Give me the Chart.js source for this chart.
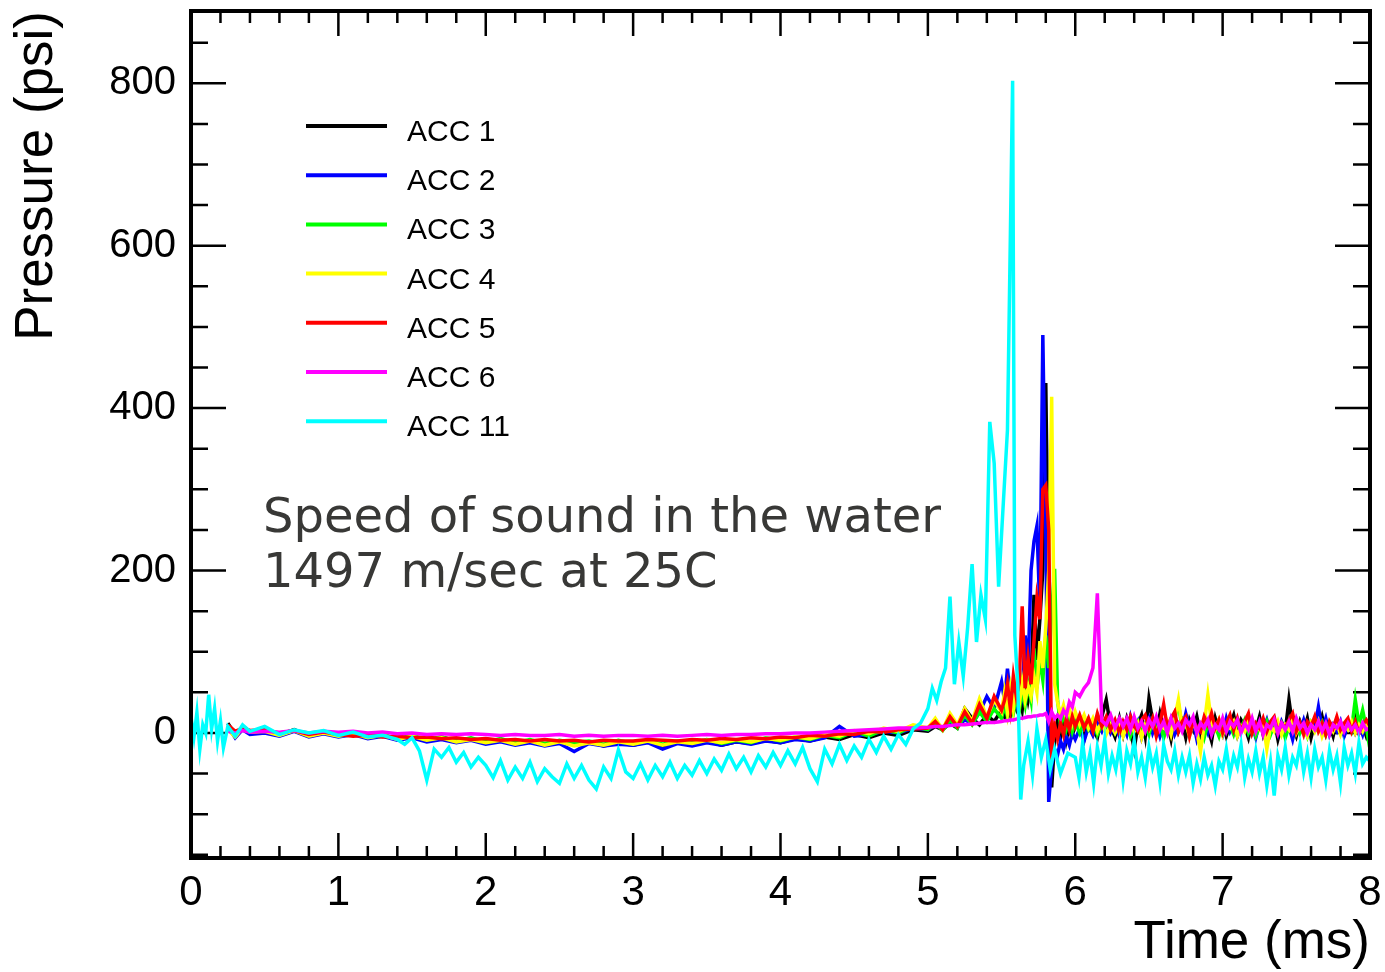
<!DOCTYPE html>
<html>
<head>
<meta charset="utf-8">
<script src="https://cdn.jsdelivr.net/npm/chart.js@4.4.0/dist/chart.umd.min.js"></script>
<style>
  html, body { margin: 0; padding: 0; background: #fff; }
  #wrap { width: 1385px; height: 972px; position: relative; }
</style>
</head>
<body>
<div id="wrap"><canvas id="chart"></canvas></div>
<script>
// time samples (ms) shared by ACC 1..6
const TIME_A = [
  0.25, 0.3, 0.35, 0.4,
  0.5, 0.6, 0.7, 0.8, 0.9,
  1.0, 1.1, 1.2, 1.3, 1.4, 1.5, 1.6, 1.7, 1.8, 1.9,
  2.0, 2.1, 2.2, 2.3, 2.4, 2.5, 2.6, 2.7, 2.8, 2.9,
  3.0, 3.1, 3.2, 3.3, 3.4, 3.5, 3.6, 3.7, 3.8, 3.9,
  4.0, 4.1, 4.2, 4.3, 4.4, 4.5, 4.6, 4.7, 4.8, 4.9,
  5.0, 5.05, 5.1, 5.15, 5.2, 5.25, 5.3, 5.35, 5.4, 5.45, 5.5,
  5.52, 5.54, 5.56, 5.58, 5.6, 5.62, 5.64, 5.66, 5.68, 5.7, 5.72, 5.74, 5.76, 5.78, 5.8, 5.82, 5.84, 5.86, 5.88, 5.9, 5.92, 5.94, 5.96, 5.98, 6.0,
  6.03, 6.06, 6.09, 6.12, 6.15, 6.18, 6.21, 6.24, 6.27, 6.3,
  6.325, 6.35, 6.375, 6.4, 6.425, 6.45, 6.475, 6.5, 6.525, 6.55,
  6.575, 6.6, 6.625, 6.65, 6.675, 6.7, 6.725, 6.75, 6.775, 6.8,
  6.825, 6.85, 6.875, 6.9, 6.925, 6.95, 6.975, 7.0, 7.025, 7.05,
  7.075, 7.1, 7.125, 7.15, 7.175, 7.2, 7.225, 7.25, 7.275, 7.3,
  7.325, 7.35, 7.375, 7.4, 7.425, 7.45, 7.475, 7.5, 7.525, 7.55,
  7.575, 7.6, 7.625, 7.65, 7.675, 7.7, 7.725, 7.75, 7.775, 7.8,
  7.825, 7.85, 7.875, 7.9, 7.925, 7.95, 7.975, 8.0
]

const ACC1 = [
  12, -2, 6, 0,
  3, -2, 4, -3, 1,
  -4, 0, -6, -2, -8, -4, -9, -5, -10, -7,
  -12, -8, -13, -9, -14, -10, -15, -11, -16, -12,
  -15, -11, -16, -12, -14, -10, -15, -11, -13, -9,
  -12, -7, -10, -5, -8, -2, -6, 0, -3, 4,
  2, 8, 4, 12, 6, 30, 18, 10, 22, 14, 28,
  20, 34, 22, 40, 30, 45, 28, 60, 40, 60, 170, 90, 140, 200, 431, 150, -67, -10, 15, -5, 20, -8, 10, -2, 8,
  12, -8, 15, 5, -6, 20, 41, 8, -5, 18,
  -2, 18, 4, -20, 10, 22, -4, 42, 15, 0,
  24, 6, 12, -8, 20, 2, 14, -6, 16, 4,
  20, -2, 12, 6, -10, 18, 2, 14, -4, 10,
  22, 0, 16, 8, -6, 14, 4, 20, -2, 12,
  6, 16, -8, 10, 2, 41, 8, -4, 14, 2,
  18, -6, 12, 4, 20, 0, 10, -4, 16, 6,
  -2, 14, 4, 20, 0, 10, -4, 8
]

const ACC2 = [
  8, -6, 4, -2,
  0, -4, 2, -5, -1,
  -5, -2, -7, -4, -9, -6, -11, -8, -12, -9,
  -14, -11, -15, -12, -16, -13, -23, -13, -16, -14,
  -15, -12, -20, -13, -16, -12, -15, -11, -14, -10,
  -12, -8, -10, -6, 8, -4, -2, 2, 0, 6,
  4, 10, 6, 14, 8, 16, 12, 25, 45, 30, 63,
  40, 79, 45, 60, 40, 70, 50, 120, 80, 200, 236, 255, 150, 490, 250, -85, -40, -20, -27, -10, -20, -5, -15, 0, -8,
  5, -10, 8, -3, 12, 2, 16, 0, 10, -4,
  10, -2, 20, 4, 14, -6, 8, 18, 0, 12,
  -4, 10, 2, 16, -2, 8, 4, 24, 6, 14,
  -8, 6, 12, 0, 16, 4, 10, -2, 18, 2,
  12, -4, 8, 14, 0, 10, -6, 12, 4, 16,
  0, 10, -2, 14, 4, 8, -8, 12, 2, 16,
  0, 10, 6, 32, 4, 18, -2, 10, 2, 14,
  -4, 8, 12, 0, 10, -2, 14, 4
]

const ACC3 = [
  6, -4, 8, 2,
  4, -1, 3, -3, 2,
  -3, 0, -5, -2, -7, -3, -8, -5, -10, -6,
  -11, -7, -12, -8, -13, -9, -12, -10, -14, -9,
  -13, -9, -14, -10, -12, -8, -13, -9, -12, -6,
  -10, -5, -8, -3, -6, 2, -4, 4, 0, 8,
  4, 12, 3, 16, 6, 22, 10, 26, 14, 30, 18,
  34, 20, 38, 24, 44, 28, 52, 34, 60, 40, 104, 55, 90, 65, 120, 80, 150, 202, 40, 10, 25, 5, 18, 2, 14,
  0, 16, 4, 12, -2, 10, 2, 14, 0, 10,
  2, 12, -4, 8, 14, 0, 10, -2, 16, 4,
  12, -6, 8, 2, 18, 36, 6, 12, -2, 14,
  4, 10, -6, 12, 0, 8, -4, 14, 2, 10,
  -2, 12, 6, 16, 0, 10, -4, 8, 2, 14,
  -2, 10, 4, 12, -6, 8, 2, 16, 0, 10,
  -4, 12, 2, 8, 14, -2, 10, 4, 12, 0,
  8, 14, 4, 41, 10, 28, 6, -20
]

const ACC4 = [
  4, -5, 6, 1,
  2, -3, 3, -4, 0,
  -4, -1, -6, -3, -8, -4, -9, -6, -11, -8,
  -12, -9, -14, -10, -15, -11, -16, -12, -15, -11,
  -14, -10, -15, -11, -13, -9, -12, -8, -11, -7,
  -9, -5, -7, -2, -4, 3, -1, 6, 2, 10,
  6, 18, 4, 24, 10, 30, 14, 42, 20, 40, 26,
  50, 25, 55, 30, 60, 35, 63, 40, 58, 45, 70, 50, 113, 80, 130, 200, 414, 60, 38, 22, 34, 18, 30, 12, 26,
  10, 22, 6, 18, 2, 14, -2, 10, 0, 12,
  -4, 8, 14, 2, 12, -6, 10, 4, 16, 0,
  10, 6, 14, -2, 18, 41, 8, 12, -4, 14,
  2, -23, 10, 47, 12, 4, 16, -2, 10, 6,
  14, -4, 8, 2, 16, 0, 10, 4, 12, -20,
  8, 2, 14, -2, 10, 4, 18, 0, 10, 6,
  -4, 12, 2, 14, -4, 8, 10, 2, 12, -2,
  10, 4, 14, 0, 10, 2, 12, 4
]

const ACC5 = [
  10, 2, 6, 3,
  4, 0, 3, -2, 1,
  -2, -4, -3, -5, -4, -6, -5, -7, -6, -8,
  -7, -9, -8, -10, -8, -10, -9, -11, -9, -10,
  -10, -8, -9, -10, -8, -9, -7, -8, -6, -7,
  -5, -6, -3, -4, -1, -2, 2, 1, 4, 5,
  6, 14, 4, 20, 8, 26, 12, 35, 18, 45, 28,
  40, 60, 30, 70, 45, 62, 156, 55, 92, 60, 113, 166, 140, 300, 305, 250, -32, 10, -7, 12, -2, 18, 4, 20, 8,
  22, 6, 18, 2, 24, 8, 20, 4, 16, 0,
  14, 4, 20, 8, 2, 16, 22, 6, 18, -4,
  12, 35, 6, 18, 26, 2, 14, 20, -4, 14,
  8, 2, 20, 10, 24, 6, 16, 0, 12, 22,
  4, 18, 2, 14, 24, 0, 12, 6, 18, 2,
  14, 20, 0, 12, 6, 16, 24, 2, 12, -2,
  14, 8, 20, 2, 12, -2, 14, 6, 20, 4,
  12, 18, 2, 14, 0, 10, 16, 8
]

const ACC6 = [
  2, 0, 3, 1,
  2, 1, 3, 0, 2,
  1, 2, 0, 1, -1, 0, -2, -1, -2, -1,
  -2, -3, -2, -3, -3, -2, -4, -3, -4, -3,
  -3, -4, -3, -4, -3, -2, -3, -2, -2, -1,
  -1, 0, 0, 1, 2, 3, 4, 5, 6, 6,
  7, 8, 8, 9, 10, 10, 11, 12, 13, 13, 14,
  15, 15, 16, 16, 17, 18, 18, 19, 20, 20, 21, 21, 22, 22, 24, 14, 26, 18, 22, 18, 28, 22, 38, 32, 50,
  45, 55, 62, 80, 172, 15, 10, 22, 6, 18,
  8, 18, 4, 20, 6, 14, 2, 16, 8, 20,
  4, 14, 0, 18, 6, 12, 2, 16, 10, 20,
  0, 12, 6, 16, -2, 10, 4, 18, 2, 14,
  8, 16, 0, 12, 4, 18, 2, 14, -2, 10,
  6, 16, 0, 12, 4, 14, 2, 18, 6, 12,
  0, 10, 4, 14, 2, 12, -2, 10, 6, 14,
  2, 12, 4, 10, 0, 12, 4, 6
]

// ACC 11 has its own time samples (starts at 0)
const TIME_B = [
  0, 0.02, 0.04, 0.06, 0.08, 0.1, 0.12, 0.14, 0.16, 0.18, 0.2, 0.22, 0.25, 0.3, 0.35,
  0.4, 0.5, 0.6, 0.7, 0.8, 0.9, 1.0, 1.1, 1.2, 1.3,
  1.4, 1.45, 1.5, 1.55, 1.6, 1.65, 1.7, 1.75, 1.8, 1.85, 1.9, 1.95,
  2.0, 2.05, 2.1, 2.15, 2.2, 2.25, 2.3, 2.35, 2.4, 2.45, 2.5, 2.55, 2.6, 2.65, 2.7, 2.75, 2.8, 2.85, 2.9, 2.95,
  3.0, 3.05, 3.1, 3.15, 3.2, 3.25, 3.3, 3.35, 3.4, 3.45, 3.5, 3.55, 3.6, 3.65, 3.7, 3.75, 3.8, 3.85, 3.9, 3.95,
  4.0, 4.05, 4.1, 4.15, 4.2, 4.25, 4.3, 4.35, 4.4, 4.45, 4.5, 4.55, 4.6, 4.65, 4.7, 4.75, 4.8, 4.85, 4.9, 4.95,
  5.0, 5.03, 5.06, 5.09, 5.12, 5.15, 5.18, 5.21, 5.24, 5.27, 5.3, 5.33, 5.36, 5.39, 5.42, 5.45, 5.48, 5.51, 5.54, 5.56, 5.575, 5.59, 5.61, 5.63, 5.65, 5.68, 5.71, 5.74, 5.77, 5.8, 5.83, 5.86, 5.9, 5.95,
  6.0, 6.025, 6.05, 6.075, 6.1, 6.125, 6.15, 6.175, 6.2, 6.225,
  6.25, 6.275, 6.3, 6.325, 6.35, 6.375, 6.4, 6.425, 6.45, 6.475,
  6.5, 6.525, 6.55, 6.575, 6.6, 6.625, 6.65, 6.675, 6.7, 6.725,
  6.75, 6.775, 6.8, 6.825, 6.85, 6.875, 6.9, 6.925, 6.95, 6.975,
  7.0, 7.025, 7.05, 7.075, 7.1, 7.125, 7.15, 7.175, 7.2, 7.225,
  7.25, 7.275, 7.3, 7.325, 7.35, 7.375, 7.4, 7.425, 7.45, 7.475,
  7.5, 7.525, 7.55, 7.575, 7.6, 7.625, 7.65, 7.675, 7.7, 7.725,
  7.75, 7.775, 7.8, 7.825, 7.85, 7.875, 7.9, 7.925, 7.95, 7.975,
  8.0
]

const ACC11 = [
  20, -5, 25, -20, 10, 0, 47, 5, 30, -10, 15, -18, 8, -4, 10,
  2, 8, -2, 4, 0, 3, -3, 1, -5, -3,
  -8, -14, -6, -22, -58, -20, -30, -18, -36, -24, -42, -30,
  -40, -55, -34, -58, -42, -56, -36, -60, -44, -54, -62, -38, -56, -40, -58, -69, -42, -56, -21, -48,
  -56, -38, -58, -40, -54, -36, -56, -40, -52, -34, -50, -32, -46, -26, -44, -30, -48, -28, -42, -24,
  -40, -22, -38, -18, -44, -60, -20, -38, -14, -34, -16, -30, -8, -24, -4, -20, -2, -14, 5, 12,
  30, 55, 40, 63, 80, 168, 60, 112, 70, 130, 208, 112, 170, 140, 383, 332, 180, 277, 373, 615, 803, 120, 60, -82, -40, -10, -52, 5, -30, -8, -45, -20, -50, -25,
  -30, -55, -12, -48, -25, -62, -18, -40, -8, -50,
  -28, -45, -15, -58, -22, -38, -10, -48, -30, -55,
  -18, -42, -25, -60, -15, -35, -45, -22, -52, -30,
  -48, -28, -62, -38, -57, -30, -52, -40, -65, -35,
  -45, -20, -50, -28, -42, -15, -55, -32, -48, -22,
  -50, -30, -65, -35, -77, -28, -45, -18, -52, -30,
  -40, -15, -48, -25, -55, -20, -42, -30, -58, -22,
  -45, -28, -62, -18, -40, -25, -50, -12, -38, -30,
  -35
]

const X_TICKS = [0, 1, 2, 3, 4, 5, 6, 7, 8]
const Y_TICKS = [0, 200, 400, 600, 800]
const X_MIN = 0, X_MAX = 8
const Y_MIN = -154, Y_MAX = 889
const NOTE = ['Speed of sound in the water', '1497 m/sec at 25C']

const SERIES = [
  { name: 'ACC 1',  t: TIME_A, p: ACC1,  color: '#000000' },
  { name: 'ACC 2',  t: TIME_A, p: ACC2,  color: '#0000ff' },
  { name: 'ACC 3',  t: TIME_A, p: ACC3,  color: '#00ff00' },
  { name: 'ACC 4',  t: TIME_A, p: ACC4,  color: '#ffff00' },
  { name: 'ACC 5',  t: TIME_A, p: ACC5,  color: '#ff0000' },
  { name: 'ACC 6',  t: TIME_A, p: ACC6,  color: '#ff00ff' },
  { name: 'ACC 11', t: TIME_B, p: ACC11, color: '#00ffff' },
]

Chart.defaults.font.family = 'Liberation Sans'
Chart.defaults.color = '#000'

// ROOT style frame with ticks pointing inward on all four sides
const frameTicks = {
  id: 'frameTicks',
  beforeDatasetsDraw(chart) {
    const { ctx, chartArea: { left, right, top, bottom } } = chart
    const xs = chart.scales.x, ys = chart.scales.y
    ctx.save()
    ctx.strokeStyle = '#000'
    ctx.lineWidth = 2.5
    ctx.beginPath()
    for (let v = X_MIN; v <= X_MAX + 1e-6; v += 0.2) {
      const px = xs.getPixelForValue(v)
      const len = Math.abs(v - Math.round(v)) < 1e-6 ? 25 : 12
      ctx.moveTo(px, bottom); ctx.lineTo(px, bottom - len)
      ctx.moveTo(px, top); ctx.lineTo(px, top + len)
    }
    for (let v = Math.ceil(Y_MIN / 50) * 50; v <= Y_MAX; v += 50) {
      const py = ys.getPixelForValue(v)
      const len = v % 200 === 0 ? 35 : 17
      ctx.moveTo(left, py); ctx.lineTo(left + len, py)
      ctx.moveTo(right, py); ctx.lineTo(right - len, py)
    }
    ctx.stroke()
    ctx.restore()
  },
  afterDatasetsDraw(chart) {
    const { ctx, chartArea: { left, right, top, bottom } } = chart
    ctx.save()
    ctx.strokeStyle = '#000'
    ctx.lineWidth = 4
    ctx.strokeRect(left, top, right - left, bottom - top)
    ctx.restore()
  },
}

const accLegend = {
  id: 'accLegend',
  afterDraw(chart) {
    const ctx = chart.ctx
    ctx.save()
    ctx.font = '30px "Liberation Sans"'
    ctx.textBaseline = 'alphabetic'
    chart.data.datasets.forEach((ds, i) => {
      const y = 126 + i * 49.2
      ctx.strokeStyle = ds.borderColor
      ctx.lineWidth = 4
      ctx.beginPath(); ctx.moveTo(306, y); ctx.lineTo(387, y); ctx.stroke()
      ctx.fillStyle = '#000'
      ctx.fillText(ds.label, 407, y + 15)
    })
    ctx.restore()
  },
}

const noteText = {
  id: 'noteText',
  afterDraw(chart) {
    const ctx = chart.ctx
    ctx.save()
    ctx.font = '48px "DejaVu Sans"'
    ctx.fillStyle = '#383836'
    ctx.textBaseline = 'alphabetic'
    ctx.fillText(NOTE[0], 263, 532)
    ctx.fillText(NOTE[1], 263, 587)
    ctx.restore()
  },
}

new Chart(document.getElementById('chart'), {
  type: 'line',
  data: {
    datasets: SERIES.map((s, i) => ({
      label: s.name,
      data: s.t.map((t, j) => ({ x: t, y: s.p[j] })),
      borderColor: s.color,
      backgroundColor: s.color,
      borderWidth: 3.5,
      pointRadius: 0,
      tension: 0,
      fill: false,
      order: SERIES.length - i,
    })),
  },
  options: {
    responsive: true,
    maintainAspectRatio: false,
    animation: false,
    layout: { padding: { top: 11, right: 15, left: 0, bottom: 0 } },
    plugins: { legend: { display: false }, tooltip: { enabled: false } },
    scales: {
      x: {
        type: 'linear',
        min: X_MIN,
        max: X_MAX,
        afterBuildTicks: s => { s.ticks = X_TICKS.map(v => ({ value: v })) },
        afterFit: s => { s.height = 114; s.paddingLeft = 0; s.paddingRight = 0 },
        grid: { display: false, drawTicks: false },
        border: { display: false },
        ticks: { font: { size: 42 }, padding: 10, maxRotation: 0, autoSkip: false },
        title: { display: true, text: 'Time (ms)', align: 'end', font: { size: 53 }, padding: { top: 0, bottom: -3 } },
      },
      y: {
        type: 'linear',
        min: Y_MIN,
        max: Y_MAX,
        afterBuildTicks: s => { s.ticks = Y_TICKS.map(v => ({ value: v })) },
        afterFit: s => { s.width = 191; s.paddingTop = 0; s.paddingBottom = 0 },
        grid: { display: false, drawTicks: false },
        border: { display: false },
        ticks: { font: { size: 40 }, padding: 15 },
        title: { display: true, text: 'Pressure (psi)', align: 'end', font: { size: 53 }, padding: { top: 6, bottom: 0 } },
      },
    },
  },
  plugins: [frameTicks, accLegend, noteText],
})
</script>
</body>
</html>
